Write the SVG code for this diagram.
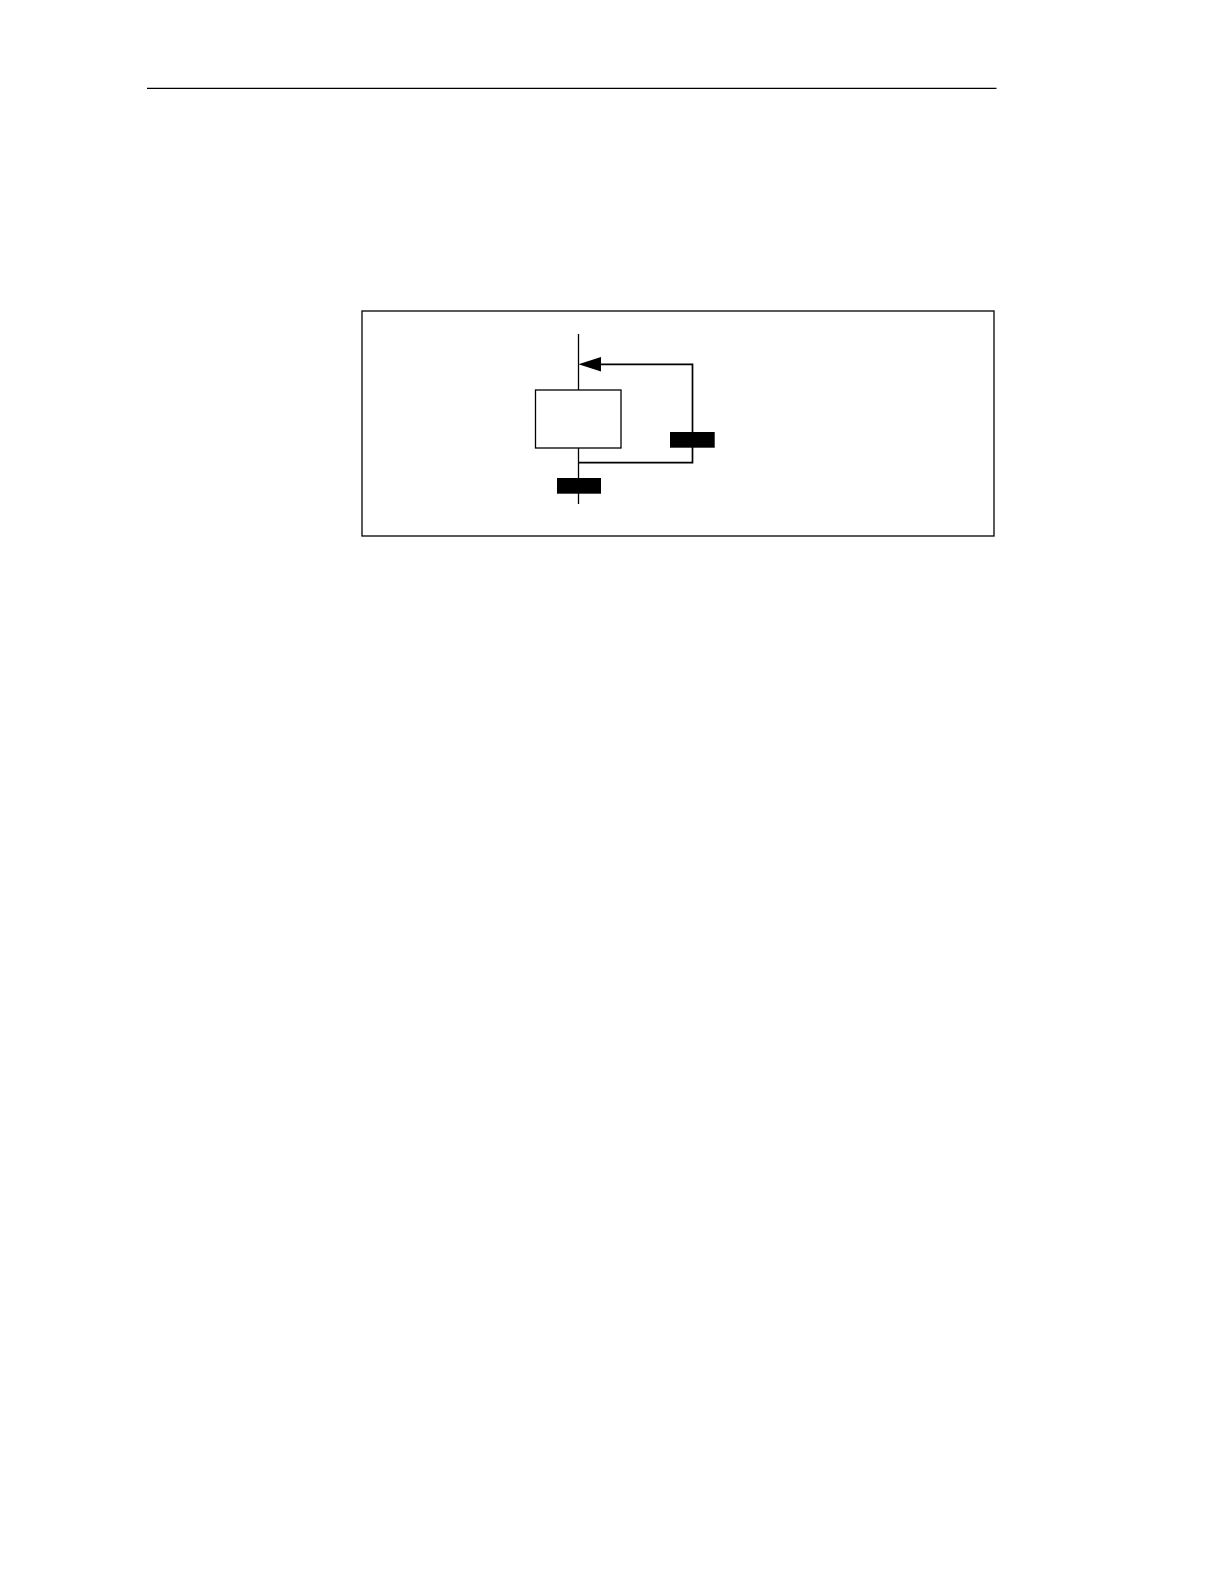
<svg xmlns="http://www.w3.org/2000/svg" width="1224" height="1584" viewBox="0 0 1224 1584">
<style>
.ln{stroke:#000;stroke-width:1.3;fill:none}
.loop{stroke:#000;stroke-width:1.7;fill:none}
.bar{fill:#000}
</style>
<rect width="1224" height="1584" fill="#fff"/>
<line x1="147" y1="88.3" x2="996.5" y2="88.3" class="ln"/>
<rect id="frame" x="362" y="311" width="632" height="225" class="ln"/>
<g id="connectors">
<line x1="578.5" y1="334" x2="578.5" y2="390" class="ln"/>
<line x1="578.5" y1="448" x2="578.5" y2="504" class="ln"/>
<polyline points="578.5,462.7 692.5,462.7 692.5,364.3 601,364.3" class="loop"/>
<path d="M578.5,364.3 L601,357 L601,371.6 Z" fill="#000"/>
</g>
<g id="step">
<rect x="535.5" y="390" width="85.5" height="58" class="ln" fill="#fff"/>
</g>
<g id="transition1">
<rect x="557" y="478" width="44" height="15.7" class="bar"/>
</g>
<g id="transition2">
<rect x="670" y="432" width="44.7" height="15.7" class="bar"/>
</g>
</svg>
